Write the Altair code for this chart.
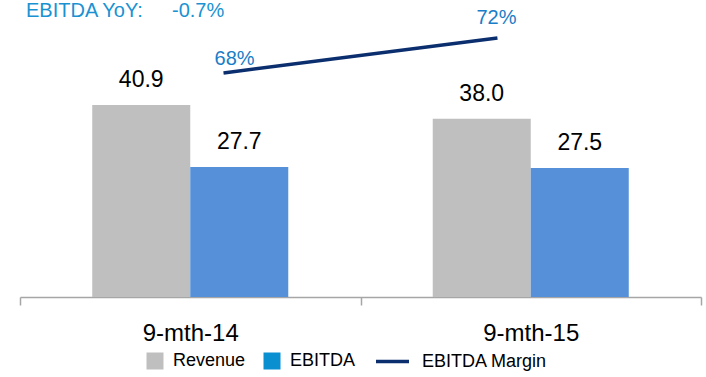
import altair as alt
import pandas as pd

# ---- data ----
periods = ["9-mth-14", "9-mth-15"]
revenue = [40.9, 38.0]
ebitda = [27.7, 27.5]
margin = [68, 72]
margin_labels = ["68%", "72%"]
title_left = "EBITDA YoY:"
title_right = "-0.7%"

bar_series = ["Revenue", "EBITDA"]
legend_items = ["Revenue", "EBITDA"]

bars_df = pd.DataFrame({
    "period": periods * 2,
    "series": ["Revenue"] * 2 + ["EBITDA"] * 2,
    "value": revenue + ebitda,
})
bars_df["label"] = bars_df["value"].map(lambda v: f"{v:.1f}")

line_df = pd.DataFrame({
    "period": periods,
    "margin": margin,
    "label": margin_labels,
    "idx": [0, 1],
    "line_series": ["EBITDA Margin"] * 2,
})
legend_df = pd.DataFrame({"item": legend_items})
title_df = pd.DataFrame({"t": [title_left]})
title_df2 = pd.DataFrame({"t": [title_right]})

FONT = "Liberation Sans"
GREY = "#bfbfbf"
BLUE = "#5590d8"
LEG_BLUE = "#0a8fd0"
NAVY = "#0b2e6e"
LBL_BLUE = "#1a7dc7"
TITLE_BLUE = "#1a92d2"

x_band = alt.X("period:N", sort=periods,
               scale=alt.Scale(paddingInner=0, paddingOuter=0),
               axis=alt.Axis(title=None, labelAngle=0, tickBand="extent",
                             domainColor="#a6a6a6", tickColor="#a6a6a6",
                             domainWidth=1.5, tickWidth=1.5, tickSize=8,
                             labelFontSize=24, labelFont=FONT, labelColor="#000000",
                             labelPadding=16, grid=False))
x_off = alt.XOffset("series:N", sort=bar_series,
                    scale=alt.Scale(domain=bar_series, paddingOuter=0.737, paddingInner=0))
y_bar = alt.Y("value:Q", scale=alt.Scale(domain=[0, 63.3], nice=False, zero=True), axis=None)

bars = alt.Chart(bars_df).mark_bar().encode(
    x=x_band,
    xOffset=x_off,
    y=y_bar,
    fill=alt.Fill("series:N", sort=bar_series,
                  scale=alt.Scale(domain=bar_series, range=[GREY, BLUE]), legend=None),
)
bar_text = alt.Chart(bars_df).mark_text(
    font=FONT, fontSize=23, color="#000000", baseline="alphabetic", dy=-18
).encode(x=x_band, xOffset=x_off, y=y_bar, text="label:N")
bar_layer = alt.layer(bars, bar_text)

x_pt = alt.X("period:N", sort=periods, scale=alt.Scale(type="point", padding=0.743), axis=None)
y_line = alt.Y("margin:Q", scale=alt.Scale(domain=[42.4, 76.34], nice=False, zero=False), axis=None)

line = alt.Chart(line_df).mark_line(strokeWidth=3.5).encode(
    x=x_pt, y=y_line,
    stroke=alt.Stroke("line_series:N", scale=alt.Scale(range=[NAVY]),
                      legend=alt.Legend(orient="none", legendX=354, legendY=343,
                                        title=None, symbolType="stroke", symbolSize=1089,
                                        symbolStrokeWidth=3.5, labelFontSize=18, labelFont=FONT,
                                        labelColor="#000000", labelOffset=11, padding=0)),
)
lt1 = alt.Chart(line_df).transform_filter("datum.idx == 0").mark_text(
    font=FONT, fontSize=20, color=LBL_BLUE, baseline="alphabetic", dx=11, dy=-8
).encode(x=x_pt, y=y_line, text="label:N")
lt2 = alt.Chart(line_df).transform_filter("datum.idx == 1").mark_text(
    font=FONT, fontSize=20, color=LBL_BLUE, baseline="alphabetic", dx=-1, dy=-14
).encode(x=x_pt, y=y_line, text="label:N")
line_layer = alt.layer(line, lt1, lt2)

# legend-only layer: squares placed outside the canvas so only the legend shows
legend_layer = alt.Chart(legend_df).mark_square(size=289, opacity=1, filled=True).encode(
    x=alt.value(-600), y=alt.value(-600),
    color=alt.Color("item:N", sort=legend_items,
                    scale=alt.Scale(range=[GREY, LEG_BLUE]),
                    legend=alt.Legend(orient="none", legendX=126, legendY=352, direction="horizontal",
                                      title=None, symbolType="square", symbolSize=289,
                                      symbolStrokeWidth=0, symbolOpacity=1, labelFontSize=18,
                                      labelFont=FONT, labelColor="#000000", labelOffset=9,
                                      columnPadding=17, padding=0)),
)

t1 = alt.Chart(title_df).mark_text(
    font=FONT, fontSize=20, color=TITLE_BLUE, align="left", baseline="alphabetic"
).encode(x=alt.value(6), y=alt.value(17), text="t:N")
t2 = alt.Chart(title_df2).mark_text(
    font=FONT, fontSize=20, color=TITLE_BLUE, align="left", baseline="alphabetic"
).encode(x=alt.value(152), y=alt.value(17), text="t:N")

chart = alt.layer(bar_layer, line_layer, legend_layer, t1, t2).resolve_scale(
    x="independent", y="independent"
).properties(
    width=681, height=297,
    padding={"left": 20, "top": 0, "right": 5, "bottom": 80},
    autosize=alt.AutoSizeParams(type="none"),
    background="#ffffff",
).configure_view(stroke=None)

chart.save("out.html", embed_options={"renderer": "svg", "actions": False})
